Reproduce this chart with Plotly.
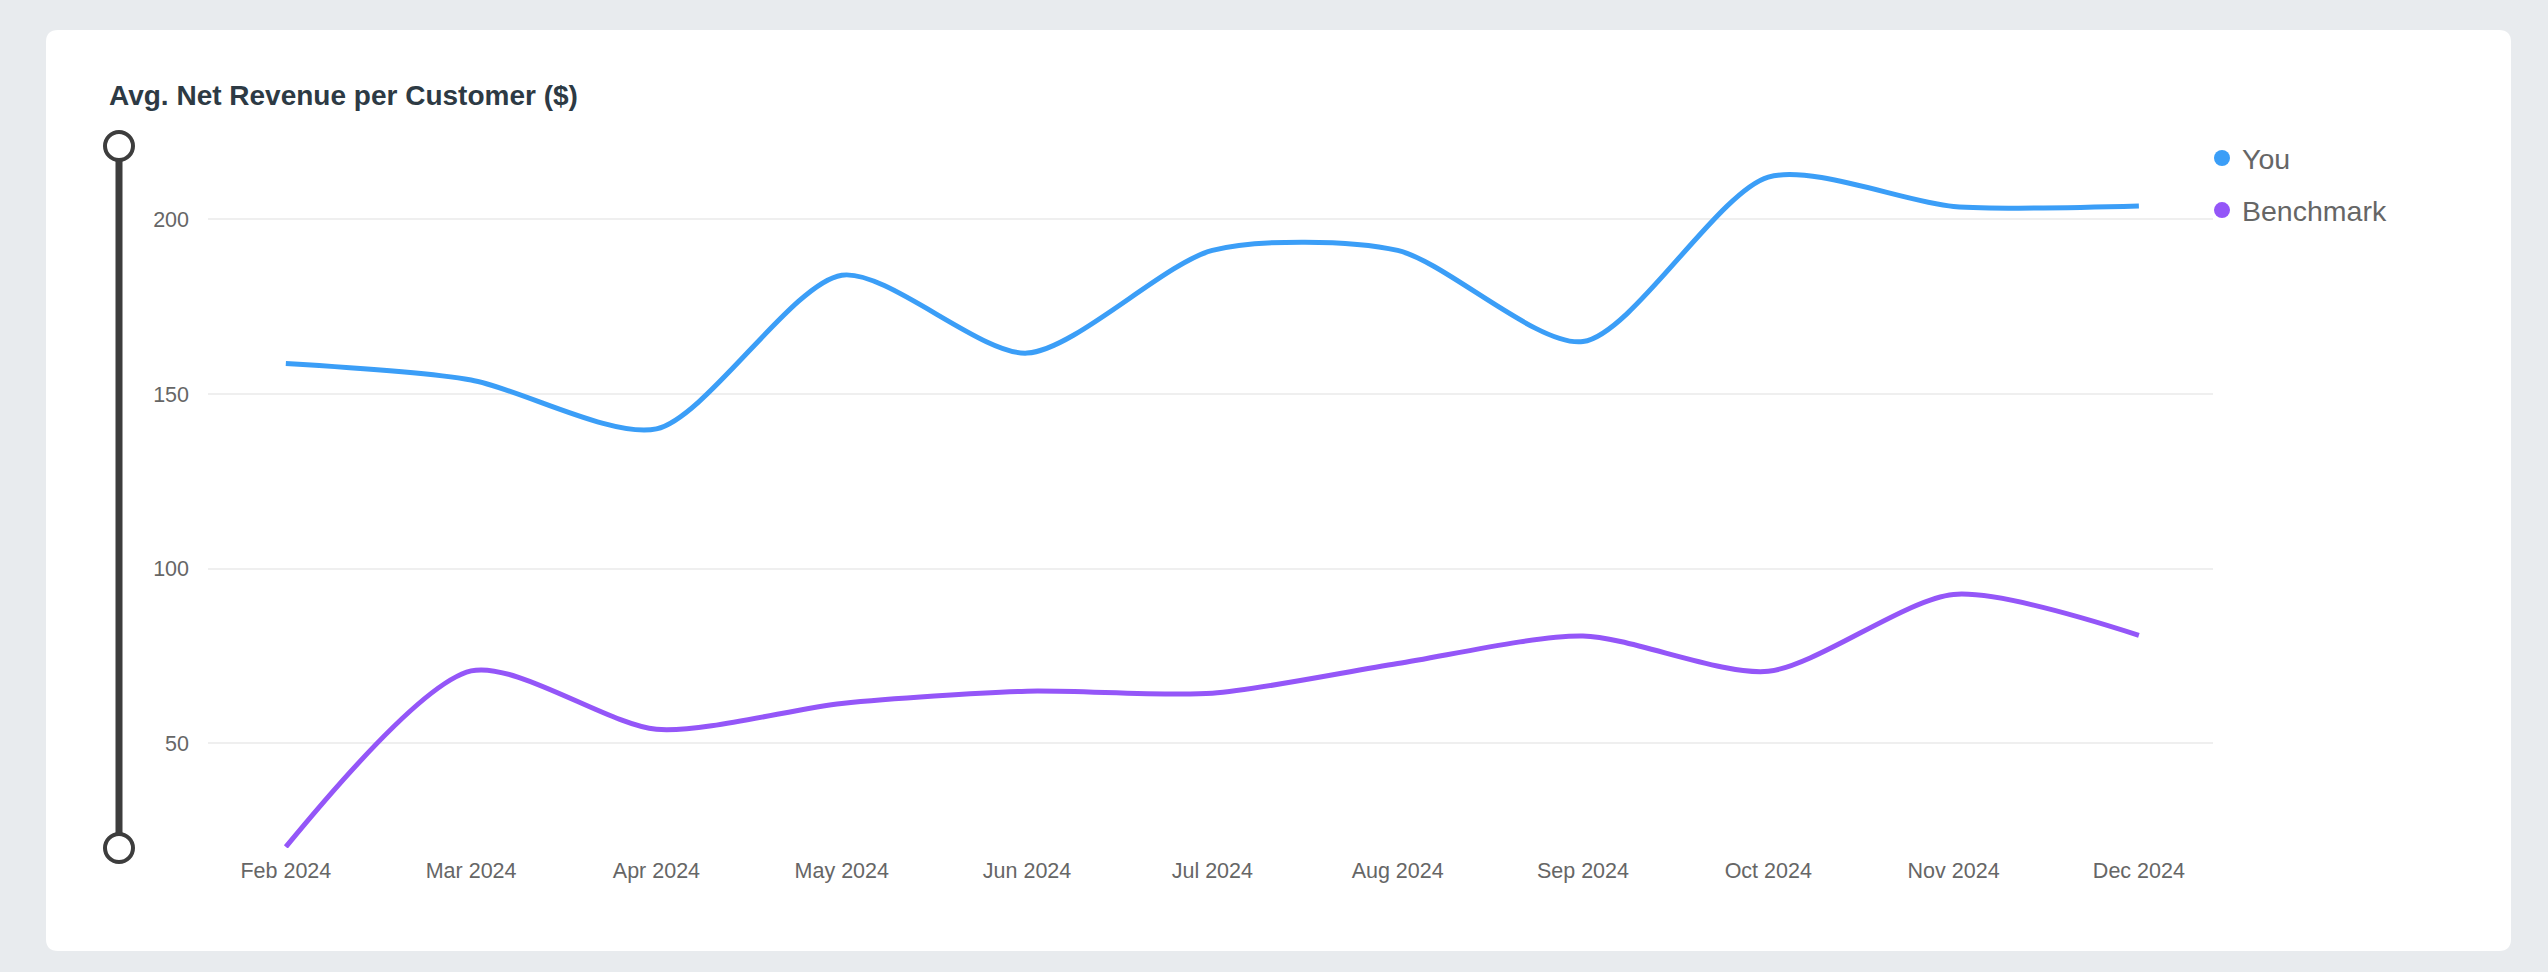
import plotly.graph_objects as go

# ---- data ----
months = ["Feb 2024", "Mar 2024", "Apr 2024", "May 2024", "Jun 2024", "Jul 2024",
          "Aug 2024", "Sep 2024", "Oct 2024", "Nov 2024", "Dec 2024"]
you = [158.7, 154.0, 140.0, 184.0, 161.7, 191.1, 191.1, 165.0, 212.1, 203.7, 203.8]
benchmark = [20.3, 70.7, 54.0, 61.4, 64.9, 64.3, 72.8, 80.7, 70.6, 92.6, 80.9]
y_ticks = [50, 100, 150, 200]

# ---- layout constants (pixels) ----
W, H = 2548, 972
L, R, T, B = 208, 335, 146, 124
PW, PH = W - L - R, H - T - B

def px_x(p):
    return (p - L) / PW

def px_y(p):
    return (H - B - p) / PH

BLUE = "#3b9ef7"
PURPLE = "#9456f8"
FONT = "Liberation Sans, Arial, Helvetica, sans-serif"

fig = go.Figure()
fig.add_trace(go.Scatter(x=months, y=you, mode="lines", name="You",
                         line=dict(color=BLUE, width=5, shape="spline", smoothing=0.75),
                         showlegend=False))
fig.add_trace(go.Scatter(x=months, y=benchmark, mode="lines", name="Benchmark",
                         line=dict(color=PURPLE, width=5, shape="spline", smoothing=0.75),
                         showlegend=False))
# legend entries (circle symbols)
fig.add_trace(go.Scatter(x=[None], y=[None], mode="markers", name="You",
                         marker=dict(color=BLUE, size=20), legendgroup="a"))
fig.add_trace(go.Scatter(x=[None], y=[None], mode="markers", name="Benchmark",
                         marker=dict(color=PURPLE, size=20), legendgroup="b"))

# card with rounded corners
x0, x1 = 46, 2511
y0, y1 = 30, 951
r = 12
pts = [
    ("M", (x0 + r, y0)), ("L", (x1 - r, y0)), ("Q", (x1, y0), (x1, y0 + r)),
    ("L", (x1, y1 - r)), ("Q", (x1, y1), (x1 - r, y1)), ("L", (x0 + r, y1)),
    ("Q", (x0, y1), (x0, y1 - r)), ("L", (x0, y0 + r)), ("Q", (x0, y0), (x0 + r, y0)),
]
path = ""
for item in pts:
    cmd = item[0]
    coords = " ".join(f"{px_x(p[0]):.6f},{px_y(p[1]):.6f}" for p in item[1:])
    path += f"{cmd}{coords} "
path += "Z"

shapes = [
    dict(type="path", path=path, xref="paper", yref="paper", fillcolor="white",
         line=dict(width=0), layer="below"),
    # decorative vertical range bar
    dict(type="line", xref="paper", yref="paper", x0=px_x(119), x1=px_x(119), y0=0, y1=1,
         line=dict(color="#3d3d3d", width=7), layer="above"),
]
for yy in (0, 1):
    shapes.append(dict(type="circle", xref="paper", yref="paper", xsizemode="pixel",
                       ysizemode="pixel", xanchor=px_x(119), yanchor=yy,
                       x0=-14, x1=14, y0=-14, y1=14, fillcolor="white",
                       line=dict(color="#3d3d3d", width=4), layer="above"))

fig.update_layout(
    width=W, height=H,
    margin=dict(l=L, r=R, t=T, b=B),
    paper_bgcolor="#e8ebee",
    plot_bgcolor="rgba(0,0,0,0)",
    font=dict(family=FONT, color="#666666"),
    shapes=shapes,
    annotations=[dict(text="<b>Avg. Net Revenue per Customer ($)</b>", xref="paper", yref="paper",
                      x=px_x(107), y=px_y(96), xanchor="left", yanchor="middle",
                      showarrow=False, font=dict(size=28, color="#2d3a44", family=FONT))],
    xaxis=dict(range=[-0.42, 10.4], showgrid=False, zeroline=False, showline=False,
               tickfont=dict(size=21.5, color="#666666"), ticks="", ticklabelstandoff=7),
    yaxis=dict(range=[20, 221], tickvals=y_ticks, showgrid=True, gridcolor="#efefef",
               gridwidth=2, zeroline=False, showline=False, ticks="",
               tickfont=dict(size=21.5, color="#666666"), ticklabelstandoff=18),
    legend=dict(x=px_x(2202), y=px_y(133), xanchor="left", yanchor="top",
                bgcolor="rgba(0,0,0,0)", font=dict(size=28.5, color="#666666"),
                tracegroupgap=12, itemclick=False),
    showlegend=True,
)

fig.write_html("out.html")
